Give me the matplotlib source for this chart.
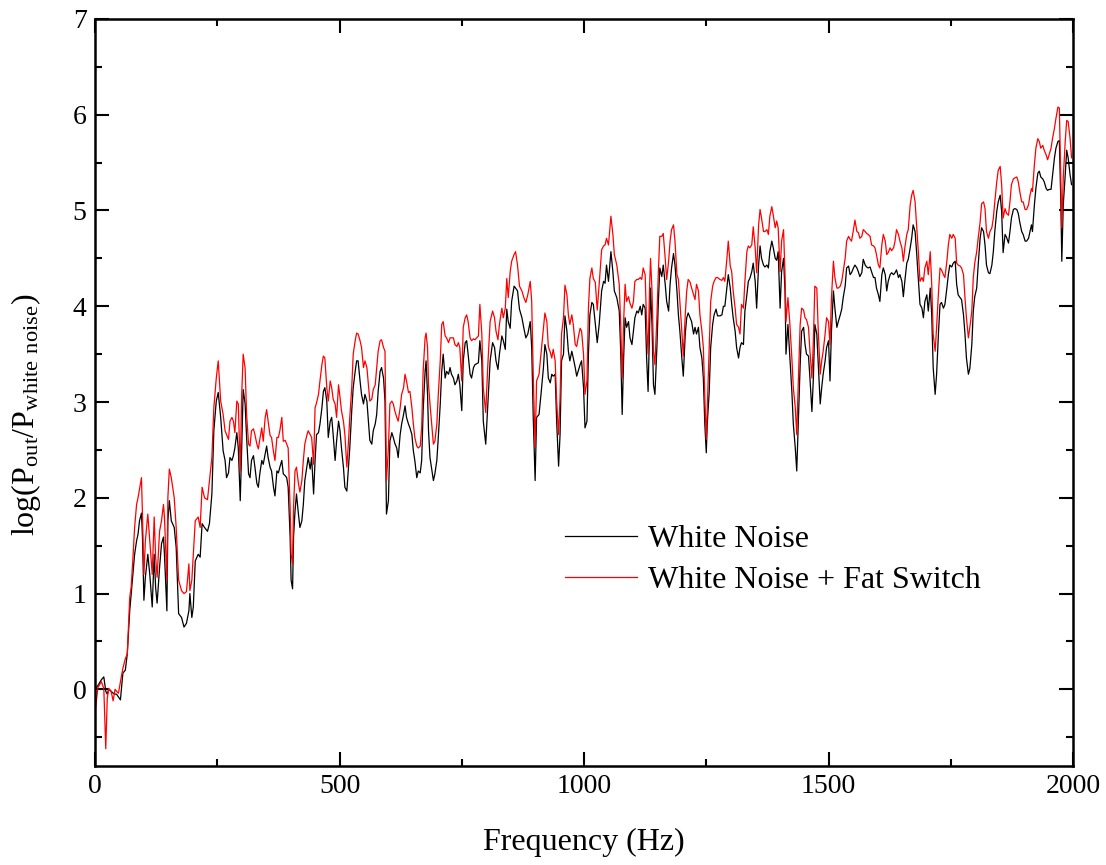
import matplotlib
matplotlib.use("Agg")
import matplotlib.pyplot as plt
from matplotlib.ticker import MultipleLocator

plt.rcParams['font.family'] = ['Liberation Serif', 'DejaVu Serif']
plt.rcParams['mathtext.default'] = 'regular'

# frequency samples (Hz)
freq_hz = [
    0, 6, 13, 18, 22, 25, 28, 33, 37, 41, 44, 48, 52, 57, 62, 66, 71, 74, 78, 81,
    85, 88, 91, 95, 97, 100, 103, 108, 112, 117, 121, 124, 127, 132, 136, 140, 142, 147, 149, 152,
    156, 162, 166, 171, 177, 182, 187, 192, 194, 198, 201, 205, 211, 215, 219, 224, 230, 234, 239, 243,
    248, 252, 257,
    262, 266, 269, 273, 276, 280, 283, 286, 290, 293, 297, 300, 303, 307, 310, 314, 317, 320, 324, 327,
    331, 334, 337, 341, 344, 348, 351, 354, 358, 361, 365, 368, 372, 375, 378, 382, 385, 389, 392, 395,
    399, 401, 404, 406, 409, 412, 416, 419, 423, 426, 429, 433, 436, 440, 443, 447, 450, 453, 457, 460,
    464, 467, 470, 474, 477, 481, 484, 487, 491, 494, 498, 501, 504, 508, 511,
    515, 518, 521, 525, 528, 532, 535, 538, 542, 545, 549, 552, 556, 559, 562, 566, 569, 573, 576, 579,
    583, 586, 590, 593, 596, 600, 603, 607, 610, 613, 617, 620, 624, 627, 631, 634, 637, 641, 644, 648,
    651, 654, 658, 661, 665, 668, 671, 675, 677, 680, 682, 685, 688, 692, 695, 699, 702, 706, 709, 712,
    716, 719, 723, 726, 729, 733, 736, 740, 743, 746, 750, 753, 757, 760, 763, 767,
    770, 774, 777, 784, 787, 791, 794, 799, 803, 808, 813, 817, 820, 824, 827, 832, 835, 839, 842, 845,
    849, 852, 857, 860, 864, 868, 873, 877, 881, 885, 890, 893, 896, 900, 903, 908, 912, 917, 920, 924,
    927, 931, 934, 937, 941, 944, 948, 951, 954, 958, 961, 965, 968, 971, 975, 978, 982, 985, 988, 992,
    995, 999, 1002, 1006, 1009, 1012, 1016, 1019, 1023,
    1027, 1031, 1036, 1040, 1043, 1046, 1050, 1055, 1059, 1062, 1067, 1072, 1075, 1078, 1081, 1084, 1087, 1091, 1094, 1098,
    1101, 1104, 1108, 1111, 1115, 1118, 1121, 1125, 1128, 1131, 1134, 1136, 1139, 1142, 1145, 1149, 1152, 1155, 1159, 1162,
    1166, 1169, 1173, 1176, 1179, 1183, 1186, 1190, 1193, 1196, 1200, 1203, 1207, 1210, 1213, 1217, 1220, 1224, 1227, 1230,
    1234, 1237, 1241, 1244, 1247, 1250, 1252, 1256, 1259, 1263, 1266, 1270, 1273, 1278,
    1282, 1285, 1288, 1292, 1295, 1299, 1302, 1305, 1309, 1312, 1316, 1319, 1322, 1326, 1329, 1333, 1336, 1339, 1343, 1346,
    1350, 1353, 1357, 1360, 1363, 1367, 1370, 1374, 1377, 1380, 1384, 1387, 1391, 1394, 1397, 1401, 1404, 1408, 1411, 1413,
    1417, 1421, 1425, 1428, 1432, 1435, 1438, 1442, 1445, 1449, 1452, 1455, 1459, 1462, 1466, 1469, 1472, 1476, 1479, 1483,
    1486, 1489, 1493, 1496, 1500, 1503, 1506, 1510, 1513, 1517, 1520, 1524, 1527, 1530, 1534,
    1537, 1541, 1544, 1547, 1551, 1554, 1558, 1561, 1564, 1568, 1571, 1575, 1578, 1581, 1585, 1588, 1592, 1595, 1598, 1602,
    1605, 1609, 1612, 1616, 1619, 1622, 1626, 1629, 1633, 1636, 1639, 1643, 1646, 1650, 1653, 1656, 1660, 1663, 1667, 1670,
    1673, 1677, 1680, 1684, 1687, 1691, 1694, 1697, 1701, 1704, 1708, 1711, 1714, 1718, 1721, 1725, 1728, 1731, 1735, 1738,
    1742, 1745, 1748, 1752, 1755, 1759, 1762, 1765, 1769, 1772, 1776, 1779, 1782, 1786, 1789,
    1793, 1796, 1799, 1803, 1806, 1810, 1813, 1817, 1820, 1823, 1827, 1830, 1834, 1837, 1840, 1844, 1847, 1851, 1854, 1857,
    1861, 1864, 1868, 1871, 1874, 1878, 1881, 1885, 1888, 1891, 1895, 1898, 1902, 1905, 1909, 1912, 1915, 1917, 1921, 1924,
    1928, 1931, 1934, 1938, 1941, 1945, 1948, 1951, 1955, 1958, 1962, 1965, 1969, 1972, 1975, 1977, 1980, 1984, 1987, 1990,
    1994, 1997,
]

# log(Pout/Pwhite noise) - white noise only (black)
white_noise = [
    0.0, 0.04, 0.10, 0.13, -0.02, -0.05, 0.0, -0.02, -0.04, -0.05, -0.05, -0.08, -0.11, 0.17, 0.2, 0.37, 0.82, 1.0, 1.24, 1.41,
    1.55, 1.62, 1.76, 1.84, 1.6, 0.93, 1.17, 1.41, 1.2, 0.86, 1.41, 1.06, 0.9, 1.27, 1.52, 1.59, 1.41, 0.82, 1.76, 1.97,
    1.76, 1.69, 1.48, 0.79, 0.75, 0.65, 0.69, 0.82, 1.0, 0.75, 0.86, 1.34, 1.41, 1.38, 1.73, 1.69, 1.65, 1.73, 2.04, 2.7,
    3.01, 3.1, 2.84,
    2.49, 2.39, 2.21, 2.26, 2.42, 2.39, 2.44, 2.52, 2.68, 2.52, 1.97, 2.52, 3.13, 2.98, 2.63, 2.25, 2.21, 2.39, 2.44, 2.32,
    2.15, 2.11, 2.25, 2.39, 2.35, 2.46, 2.54, 2.42, 2.32, 2.28, 2.11, 2.02, 2.28, 2.26, 2.32, 2.39, 2.25, 2.23, 2.21, 2.11,
    1.59, 1.14, 1.05, 1.59, 1.86, 2.04, 1.83, 1.69, 1.76, 1.93, 2.18, 2.32, 2.42, 2.3, 2.42, 2.04, 2.39, 2.66, 2.68, 2.77,
    2.94, 3.11, 3.15, 3.01, 2.63, 2.8, 2.84, 2.66, 2.39, 2.59, 2.8, 2.7, 2.52, 2.32, 2.11,
    2.07, 2.29, 2.52, 2.91, 3.15, 3.32, 3.43, 3.43, 3.22, 3.08, 2.98, 3.08, 3.01, 2.8, 2.6, 2.56, 2.7, 2.77, 2.87, 3.11,
    3.32, 3.36, 3.25, 3.01, 1.83, 1.97, 2.59, 2.68, 2.63, 2.57, 2.52, 2.42, 2.66, 2.77, 2.87, 2.96, 2.84, 2.77, 2.73, 2.66,
    2.49, 2.39, 2.21, 2.28, 2.26, 2.39, 2.91, 3.32, 3.43, 3.08, 2.7, 2.42, 2.32, 2.18, 2.25, 2.39, 2.63, 2.98, 3.32, 3.5,
    3.25, 3.32, 3.29, 3.36, 3.29, 3.25, 3.18, 3.22, 3.29, 3.18, 2.91, 3.43, 3.62, 3.64, 3.5, 3.29,
    3.25, 3.36, 3.39, 3.41, 3.64, 3.43, 2.8, 2.56, 2.94, 3.43, 3.62, 3.57, 3.43, 3.34, 3.5, 3.69, 3.64, 3.55, 3.97, 3.84,
    3.77, 4.05, 4.21, 4.19, 4.16, 3.97, 3.88, 3.77, 3.67, 3.71, 3.84, 3.57, 2.87, 2.18, 2.84, 2.87, 3.08, 3.36, 3.6, 3.5,
    3.25, 3.2, 3.29, 3.27, 3.29, 2.8, 2.33, 2.66, 3.43, 3.5, 3.9, 3.74, 3.53, 3.43, 3.53, 3.46, 3.36, 3.27, 3.32, 3.39,
    3.43, 3.15, 2.73, 2.8, 3.5, 3.91, 4.04, 4.02, 3.82,
    3.62, 3.81, 4.16, 4.26, 4.24, 4.43, 4.26, 4.57, 4.36, 4.16, 4.09, 3.95, 3.53, 2.87, 3.46, 3.88, 3.78, 3.84, 3.67, 3.6,
    3.74, 3.88, 3.95, 3.93, 4.0, 3.91, 4.02, 3.98, 3.46, 3.11, 3.74, 4.19, 3.81, 3.18, 3.08, 3.57, 4.05, 4.4, 4.31, 4.43,
    4.23, 4.05, 3.95, 4.23, 4.4, 4.55, 4.43, 4.16, 3.91, 3.74, 3.46, 3.27, 3.71, 3.88, 3.93, 3.88, 3.84, 3.71, 3.78, 3.71,
    3.78, 3.57, 3.46, 3.25, 2.77, 2.47, 2.77, 3.11, 3.57, 3.81, 3.91, 3.97, 3.9, 3.9,
    3.91, 4.0, 4.0, 4.19, 4.33, 4.19, 4.02, 3.88, 3.74, 3.57, 3.46, 3.57, 3.62, 3.6, 3.95, 4.12, 4.26, 4.29, 4.36, 4.45,
    4.26, 3.98, 4.43, 4.63, 4.5, 4.43, 4.41, 4.43, 4.4, 4.57, 4.68, 4.61, 4.5, 4.48, 4.57, 3.98, 4.36, 4.5, 4.16, 3.5,
    3.81, 3.46, 3.11, 2.77, 2.52, 2.28, 2.77, 3.39, 3.74, 3.78, 3.6, 3.5, 3.48, 3.25, 2.9, 3.25, 3.81, 3.71, 3.39, 2.98,
    3.15, 3.29, 3.43, 3.57, 3.64, 3.22, 3.74, 4.16, 3.98, 3.78, 3.84, 3.91, 3.97, 4.09, 4.21,
    4.4, 4.42, 4.33, 4.35, 4.4, 4.43, 4.4, 4.36, 4.31, 4.35, 4.49, 4.43, 4.41, 4.4, 4.41, 4.36, 4.3, 4.3, 4.19, 4.12,
    4.05, 4.33, 4.4, 4.33, 4.16, 4.26, 4.33, 4.35, 4.33, 4.35, 4.38, 4.3, 4.33, 4.26, 4.1, 4.26, 4.45, 4.49, 4.61, 4.71,
    4.85, 4.78, 4.57, 4.26, 4.02, 3.98, 3.88, 4.05, 4.12, 3.95, 4.19, 3.91, 3.36, 3.08, 3.29, 3.74, 4.02, 4.04, 3.98, 4.02,
    4.19, 4.33, 4.43, 4.41, 4.45, 4.47, 4.23, 4.12, 4.09, 4.07, 3.91, 3.71, 3.46, 3.29, 3.35,
    3.6, 3.95, 4.1, 4.19, 4.43, 4.71, 4.82, 4.78, 4.64, 4.43, 4.35, 4.34, 4.43, 4.57, 4.78, 4.99, 5.09, 5.16, 4.99, 4.56,
    4.75, 4.72, 4.66, 4.78, 4.92, 5.01, 5.02, 5.01, 4.97, 4.88, 4.78, 4.75, 4.68, 4.68, 4.71, 4.78, 4.85, 4.78, 5.06, 5.23,
    5.39, 5.41, 5.35, 5.33, 5.3, 5.23, 5.21, 5.22, 5.22, 5.36, 5.55, 5.65, 5.72, 5.73, 5.09, 4.47, 5.06, 5.37, 5.63, 5.55,
    5.37, 5.27,
]

# log(Pout/Pwhite noise) - white noise + fat switch (red)
fat_switch = [
    -0.24, 0.02, 0.08, 0.01, -0.62, -0.10, 0.01, -0.02, -0.12, 0.0, -0.02, -0.04, 0.08, 0.22, 0.32, 0.37, 0.96, 1.07, 1.41, 1.69,
    1.93, 2.0, 2.09, 2.21, 1.83, 1.2, 1.55, 1.83, 1.55, 1.2, 1.8, 1.38, 1.17, 1.65, 1.76, 1.93, 1.8, 1.14, 2.0, 2.3,
    2.21, 2.0, 1.69, 1.14, 1.03, 1.0, 1.02, 1.31, 1.03, 1.14, 1.41, 1.76, 1.8, 1.69, 2.11, 2.0, 1.98, 2.18, 2.42, 2.94,
    3.25, 3.43, 3.01,
    2.87, 2.7, 2.66, 2.61, 2.8, 2.84, 2.8, 2.68, 3.01, 2.98, 2.28, 3.08, 3.5, 3.35, 2.87, 2.56, 2.54, 2.7, 2.72, 2.66,
    2.56, 2.51, 2.61, 2.73, 2.59, 2.84, 2.92, 2.8, 2.65, 2.63, 2.48, 2.39, 2.63, 2.63, 2.7, 2.84, 2.59, 2.6, 2.56, 2.52,
    1.9, 1.41, 1.31, 1.9, 2.28, 2.32, 2.15, 2.06, 2.18, 2.39, 2.56, 2.65, 2.7, 2.66, 2.63, 2.35, 2.94, 2.99, 3.08, 3.22,
    3.39, 3.48, 3.46, 3.15, 3.01, 3.22, 3.15, 3.03, 2.98, 2.84, 3.18, 3.05, 2.91, 2.8, 2.66,
    2.32, 2.56, 2.84, 3.15, 3.5, 3.64, 3.72, 3.71, 3.64, 3.57, 3.36, 3.43, 3.36, 3.18, 3.01, 3.03, 3.13, 3.18, 3.36, 3.53,
    3.64, 3.65, 3.57, 3.53, 2.18, 2.52, 2.98, 3.01, 2.98, 2.91, 2.84, 2.8, 2.94, 3.08, 3.15, 3.29, 3.22, 3.1, 3.11, 2.94,
    2.77, 2.63, 2.54, 2.52, 2.54, 2.73, 3.32, 3.67, 3.72, 3.57, 3.18, 2.98, 2.8, 2.56, 2.59, 2.77, 3.08, 3.43, 3.81, 3.84,
    3.69, 3.67, 3.62, 3.67, 3.67, 3.67, 3.6, 3.58, 3.62, 3.57, 3.22, 3.78, 3.88, 3.91, 3.84, 3.67,
    3.64, 3.66, 3.65, 3.69, 4.02, 3.71, 3.15, 2.89, 3.36, 3.84, 3.95, 3.88, 3.74, 3.65, 3.81, 3.98, 3.88, 3.98, 4.29, 4.09,
    4.36, 4.47, 4.54, 4.57, 4.43, 4.21, 4.16, 4.09, 4.04, 4.12, 4.26, 4.05, 3.32, 2.53, 3.22, 3.29, 3.5, 3.77, 3.93, 3.84,
    3.58, 3.52, 3.46, 3.55, 3.43, 3.01, 2.66, 3.05, 3.71, 3.88, 4.22, 4.12, 3.91, 3.81, 3.91, 3.81, 3.6, 3.58, 3.67, 3.77,
    3.74, 3.5, 3.08, 3.22, 3.98, 4.29, 4.4, 4.29, 4.25,
    3.96, 4.23, 4.59, 4.63, 4.64, 4.71, 4.64, 4.94, 4.75, 4.54, 4.43, 4.23, 3.81, 3.25, 3.84, 4.23, 4.05, 4.1, 4.03, 3.98,
    4.05, 4.26, 4.28, 4.28, 4.3, 4.28, 4.4, 4.33, 3.81, 3.5, 4.19, 4.5, 4.16, 3.53, 3.39, 3.88, 4.36, 4.73, 4.73, 4.76,
    4.5, 4.28, 4.47, 4.68, 4.8, 4.85, 4.68, 4.33, 4.28, 4.05, 3.74, 3.48, 3.91, 4.16, 4.28, 4.25, 4.19, 4.12, 4.07, 4.23,
    4.16, 3.91, 3.74, 3.57, 3.05, 2.61, 2.94, 3.57, 4.05, 4.21, 4.26, 4.3, 4.3, 4.28,
    4.27, 4.3, 4.26, 4.49, 4.68, 4.42, 4.36, 4.16, 3.98, 3.81, 3.78, 3.71, 4.02, 3.98, 4.26, 4.57, 4.63, 4.61, 4.64, 4.83,
    4.61, 4.35, 4.85, 5.01, 4.92, 4.78, 4.78, 4.8, 4.75, 4.94, 5.04, 4.95, 4.82, 4.89, 4.82, 4.36, 4.68, 4.8, 4.33, 3.84,
    4.09, 3.81, 3.46, 3.15, 2.94, 2.66, 3.18, 3.81, 3.98, 3.96, 3.88, 3.86, 3.78, 3.53, 3.25, 3.64, 4.21, 4.19, 3.74, 3.29,
    3.43, 3.53, 3.71, 3.88, 3.84, 3.6, 4.09, 4.47, 4.3, 4.19, 4.19, 4.21, 4.26, 4.36, 4.5,
    4.68, 4.73, 4.7, 4.68, 4.8, 4.9, 4.78, 4.77, 4.71, 4.73, 4.8, 4.78, 4.76, 4.75, 4.73, 4.64, 4.63, 4.61, 4.54, 4.43,
    4.4, 4.64, 4.75, 4.68, 4.54, 4.56, 4.61, 4.58, 4.61, 4.68, 4.8, 4.75, 4.68, 4.61, 4.47, 4.61, 4.75, 4.8, 5.06, 5.16,
    5.21, 5.09, 4.85, 4.54, 4.26, 4.3, 4.26, 4.4, 4.47, 4.33, 4.57, 4.23, 3.71, 3.53, 3.78, 4.16, 4.4, 4.38, 4.33, 4.3,
    4.47, 4.64, 4.75, 4.71, 4.75, 4.71, 4.45, 4.43, 4.42, 4.4, 4.33, 4.09, 3.88, 3.67, 3.78,
    3.95, 4.3, 4.45, 4.57, 4.71, 4.88, 5.07, 5.09, 5.02, 4.78, 4.71, 4.78, 4.82, 4.92, 5.09, 5.3, 5.42, 5.46, 5.27, 4.92,
    5.02, 4.97, 4.95, 5.09, 5.27, 5.33, 5.34, 5.35, 5.3, 5.2, 5.09, 5.09, 5.01, 5.01, 5.06, 5.16, 5.23, 5.2, 5.48, 5.65,
    5.75, 5.72, 5.65, 5.68, 5.63, 5.58, 5.53, 5.58, 5.65, 5.75, 5.86, 5.96, 6.08, 6.07, 5.34, 4.82, 5.34, 5.72, 5.94, 5.93,
    5.75, 5.55,
]

assert len(freq_hz) == len(white_noise) == len(fat_switch)

fig = plt.figure(figsize=(11.06, 8.65), dpi=100)
ax = fig.add_axes([0.0859, 0.1145, 0.8843, 0.8636])

ax.plot(freq_hz, white_noise, color='black', lw=0.9, label='White Noise')
ax.plot(freq_hz, fat_switch, color='red', lw=0.9, label='White Noise + Fat Switch')

ax.set_xlim(0, 2000)
ax.set_ylim(-0.8, 7)
ax.xaxis.set_major_locator(MultipleLocator(500))
ax.xaxis.set_minor_locator(MultipleLocator(250))
ax.yaxis.set_major_locator(MultipleLocator(1))
ax.yaxis.set_minor_locator(MultipleLocator(0.5))

for s in ax.spines.values():
    s.set_linewidth(1.8)
ax.tick_params(which='both', direction='in', top=True, right=True, width=1.5, labelsize=20)
ax.tick_params(which='major', length=10, pad=6)
ax.tick_params(which='minor', length=5)

ax.set_xlabel('Frequency (Hz)', fontsize=23)
ax.set_ylabel('log(P$_{out}$/P$_{white\\ noise}$)', fontsize=23)
ax.xaxis.set_label_coords(0.5, -0.083)
ax.yaxis.set_label_coords(-0.053, 0.47)

ax.legend(loc='upper left', bbox_to_anchor=(0.4806, 0.3226), frameon=False, fontsize=23,
          handlelength=2.25, handletextpad=0.35, borderaxespad=0, borderpad=0, labelspacing=0.36)

plt.savefig('out.png', dpi=100)
